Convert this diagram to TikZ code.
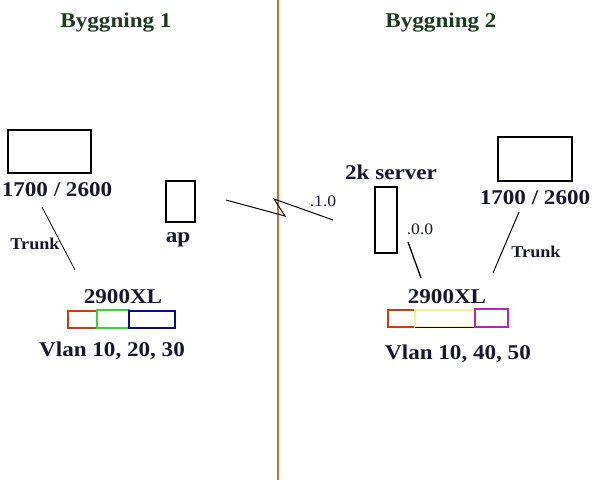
\documentclass[tikz,border=0pt]{standalone}
\usepackage{fontspec}
\setmainfont{Liberation Serif}[FakeStretch=1.1]
\definecolor{divider}{RGB}{204,110,50}
\definecolor{headgreen}{RGB}{28,58,30}
\definecolor{labelnavy}{RGB}{22,22,48}
\definecolor{vred}{RGB}{200,60,20}
\definecolor{vgreen}{RGB}{50,215,50}
\definecolor{vblue}{RGB}{10,10,140}
\definecolor{vyellow}{RGB}{250,240,150}
\definecolor{vpurple}{RGB}{180,40,180}
\begin{document}
\begin{tikzpicture}[x=1pt,y=-1pt,
  heading/.style={font=\bfseries\fontsize{21}{24}\selectfont,text=headgreen,inner sep=0},
  biglabel/.style={font=\bfseries\fontsize{21}{24}\selectfont,text=labelnavy,inner sep=0},
  smalllabel/.style={font=\bfseries\fontsize{16.5}{18}\selectfont,text=labelnavy,inner sep=0},
  iplabel/.style={font=\fontsize{16}{18}\selectfont,text=labelnavy,inner sep=0},
  device/.style={draw=black,line width=1.6pt},
  link/.style={draw=black,line width=1pt},
  port/.style={line width=1.6pt}]
\useasboundingbox (0,0) rectangle (600,480);
\fill[white] (0,0) rectangle (600,480);
% divider
\coordinate (dtop) at (278,0);
\coordinate (dbot) at (278,480);
\draw[divider,line width=1.5pt] (dtop) -- (dbot);
% headings
\node[heading] (b1) at (116,23) {Byggning 1};
\node[heading] (b2) at (441,23) {Byggning 2};
% left router
\draw[device] (8,130) rectangle (91,173);
\node[biglabel] (r1lbl) at (57,190) {1700 / 2600};
\coordinate (t1a) at (42,207);
\coordinate (t1b) at (75,270);
\draw[link,line width=0.8pt] (t1a) -- (t1b);
\node[smalllabel] (trunk1) at (35,244) {Trunk};
% ap
\draw[device] (166,181) rectangle (195,222);
\node[biglabel] (aplbl) at (178,240) {ap};
% wireless link
\coordinate (w1) at (226,200);
\coordinate (w2) at (285,216);
\coordinate (w3) at (274,199);
\coordinate (w4) at (333,220);
\draw[link,line join=miter] (w1) -- (w2) -- (w3) -- (w4);
\node[iplabel] (ip1) at (323,201) {.1.0};
% server
\node[biglabel] (srvlbl) at (391,172) {2k server};
\draw[device] (375,187) rectangle (397,253);
\node[iplabel] (ip2) at (420,229) {.0.0};
\coordinate (s1) at (408,242);
\coordinate (s2) at (421,278);
\draw[link,line width=1.3pt] (s1) -- (s2);
% right router
\draw[device] (498,137) rectangle (572,181);
\node[biglabel] (r2lbl) at (535,198) {1700 / 2600};
\coordinate (t2a) at (519,212);
\coordinate (t2b) at (493,273);
\draw[link,line width=1pt] (t2a) -- (t2b);
\node[smalllabel] (trunk2) at (536,252) {Trunk};
% left switch
\node[biglabel] (sw1lbl) at (123,297) {2900XL};
\draw[port,draw=vred] (68,311) rectangle (97,328);
\draw[port,draw=vgreen] (97,310) rectangle (129,328);
\draw[port,draw=vblue] (129,311) rectangle (175,328);
\node[biglabel] (vl1) at (112,351) {Vlan 10, 20, 30};
% right switch
\node[biglabel] (sw2lbl) at (447,297) {2900XL};
\draw[port,draw=vred] (388,310) rectangle (415,327);
\draw[port,draw=vyellow] (415,310) rectangle (475,327);
\draw[black,line width=1pt] (415,327.5) -- (475,327.5);
\draw[port,draw=vpurple] (475,309) rectangle (508,327);
\node[biglabel] (vl2) at (458,354) {Vlan 10, 40, 50};
\end{tikzpicture}
\end{document}
